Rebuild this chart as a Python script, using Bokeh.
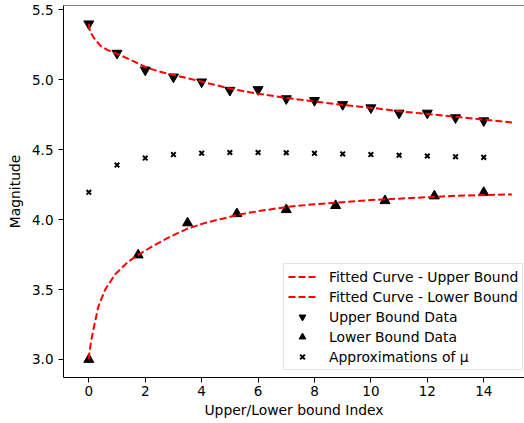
from bokeh.plotting import figure
from bokeh.models import (Range1d, FixedTicker, PrintfTickFormatter, Legend, LegendItem, Span)
from bokeh.embed import file_html
from bokeh.resources import INLINE

# --- data ---
upper_x = list(range(15))
upper_y = [5.40, 5.19, 5.07, 5.02, 4.985, 4.925, 4.93, 4.865, 4.852, 4.823,
           4.80, 4.762, 4.762, 4.729, 4.707]

lower_x = [0, 1.75, 3.5, 5.25, 7, 8.75, 10.5, 12.25, 14]
lower_y = [3.00, 3.747, 3.976, 4.042, 4.071, 4.10, 4.135, 4.169, 4.194]

mu_x = list(range(15))
mu_y = [4.195, 4.39, 4.44, 4.465, 4.475, 4.48, 4.48, 4.478, 4.474, 4.470,
        4.465, 4.460, 4.455, 4.450, 4.445]

fit_up_x = [0, 0.02, 0.06, 0.18, 0.4, 0.65, 1.0, 1.5, 2.07, 2.66, 3.1, 4.0, 5.0,
            6.0, 7.0, 8.0, 9.0, 10.0, 11.0, 12.0, 13.0, 14.0, 15.0]
fit_up_y = [5.40, 5.37, 5.34, 5.30, 5.245, 5.214, 5.186, 5.14, 5.085, 5.05, 5.03,
            4.987, 4.937, 4.90, 4.87, 4.845, 4.82, 4.80, 4.775, 4.755, 4.735,
            4.715, 4.695]

fit_lo_x = [0, 0.03, 0.08, 0.17, 0.34, 0.58, 0.94, 1.4, 1.76, 2.35, 2.9, 3.5, 4.1,
            4.7, 5.3, 6.0, 7.0, 8.0, 9.0, 10.0, 11.0, 12.0, 13.0, 14.0, 15.0]
fit_lo_y = [3.00, 3.06, 3.13, 3.22, 3.38, 3.50, 3.61, 3.70, 3.75, 3.82, 3.88,
            3.935, 3.975, 4.005, 4.035, 4.06, 4.09, 4.11, 4.125, 4.14, 4.15,
            4.16, 4.17, 4.175, 4.18]

x_ticks = [0, 2, 4, 6, 8, 10, 12, 14]
y_ticks = [3.0, 3.5, 4.0, 4.5, 5.0, 5.5]

legend_labels = ["Fitted Curve - Upper Bound", "Fitted Curve - Lower Bound",
                 "Upper Bound Data", "Lower Bound Data", "Approximations of \u03bc"]

FONT = "DejaVu Sans"
Y_END = 5.531

p = figure(width=524, height=423, output_backend="svg", toolbar_location=None,
           x_range=Range1d(-0.897, 15.445), y_range=Range1d(2.871, Y_END),
           min_border_left=63, min_border_right=0, min_border_top=5,
           min_border_bottom=46)
p.outline_line_color = None
p.xgrid.visible = False
p.ygrid.visible = False
p.background_fill_color = "white"
p.border_fill_color = "white"

r_up = p.scatter(upper_x, upper_y, marker="inverted_triangle", size=10, color="black")
r_lo = p.scatter(lower_x, lower_y, marker="triangle", size=10, color="black")
r_mu = p.scatter(mu_x, mu_y, marker="x", size=6.5, line_color="black", line_width=2)
r_fu = p.line(fit_up_x, fit_up_y, line_color="red", line_width=2, line_dash="7 3")
r_fl = p.line(fit_lo_x, fit_lo_y, line_color="red", line_width=2, line_dash="7 3")

top = Span(location=Y_END, dimension="width", line_color="black", line_width=1)
p.add_layout(top)

for ax in (p.xaxis[0], p.yaxis[0]):
    ax.axis_line_color = "black"
    ax.major_tick_line_color = "black"
    ax.major_tick_out = 5
    ax.major_tick_in = 0
    ax.minor_tick_line_color = None
    ax.major_label_text_font = FONT
    ax.major_label_text_font_size = "13.5px"
    ax.major_label_text_color = "black"
    ax.axis_label_text_font = FONT
    ax.axis_label_text_font_size = "13.9px"
    ax.axis_label_text_font_style = "normal"
    ax.axis_label_text_color = "black"

p.xaxis.ticker = FixedTicker(ticks=x_ticks)
p.yaxis.ticker = FixedTicker(ticks=y_ticks)
p.yaxis.formatter = PrintfTickFormatter(format="%.1f")
p.xaxis.formatter = PrintfTickFormatter(format="%d")
p.xaxis.axis_label = "Upper/Lower bound Index"
p.yaxis.axis_label = "Magnitude"
p.xaxis.major_label_standoff = 3
p.xaxis.axis_label_standoff = 3
p.yaxis.major_label_standoff = 5
p.yaxis.axis_label_standoff = 6

legend = Legend(items=[
    LegendItem(label=legend_labels[0], renderers=[r_fu]),
    LegendItem(label=legend_labels[1], renderers=[r_fl]),
    LegendItem(label=legend_labels[2], renderers=[r_up]),
    LegendItem(label=legend_labels[3], renderers=[r_lo]),
    LegendItem(label=legend_labels[4], renderers=[r_mu]),
], location=(220, 7))
legend.margin = 0
legend.padding = 4
legend.spacing = 3
legend.glyph_height = 17
legend.label_height = 17
legend.glyph_width = 28
legend.label_standoff = 13
legend.label_text_font = FONT
legend.label_text_font_size = "13.9px"
legend.label_text_color = "black"
legend.border_line_color = "#cccccc"
legend.border_line_width = 1
legend.background_fill_color = "white"
legend.background_fill_alpha = 0.8
p.add_layout(legend, "center")

open("out.html", "w").write(file_html(p, INLINE))
